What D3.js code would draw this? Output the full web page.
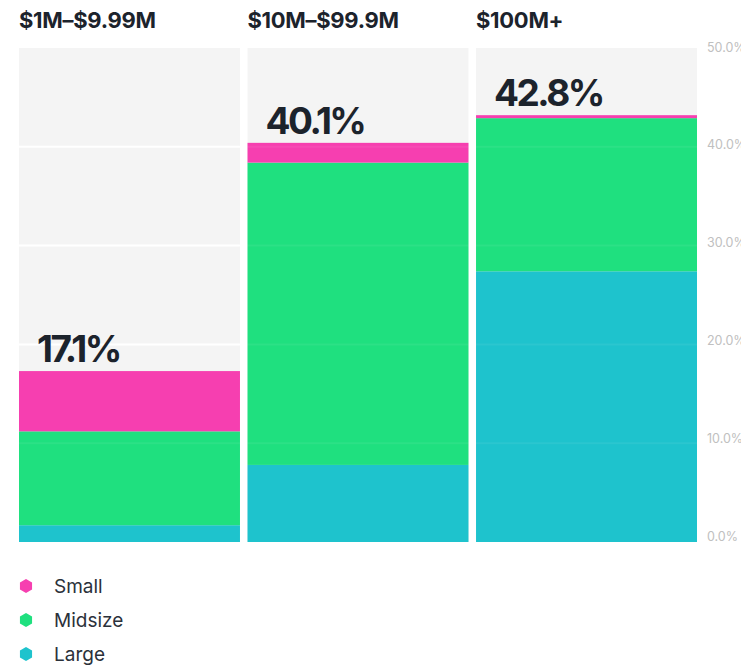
<!DOCTYPE html>
<html><head><meta charset="utf-8">
<script src="https://cdn.jsdelivr.net/npm/d3@7"></script>
<style>body{margin:0;background:#fff;}svg{display:block;font-family:Inter,"Liberation Sans",sans-serif;}</style>
</head><body><svg id="c" width="741" height="665"></svg>
<script>
const categories = ["$1M–$9.99M", "$10M–$99.9M", "$100M+"];
const seriesNames = ["Large", "Midsize", "Small"];
const large = [1.7, 7.8, 27.4];
const midsize = [9.5, 30.6, 15.5];
const small = [6.1, 2.0, 0.3];
const totals = ["17.1%", "40.1%", "42.8%"];
const ticks = [0, 10, 20, 30, 40, 50];
const colors = {Small: "#f63fb0", Midsize: "#1fe07f", Large: "#1ec3cd"};
const legendOrder = ["Small", "Midsize", "Large"];

const svg = d3.select("#c");
const x = d3.scaleBand().domain(categories).range([19, 697]).paddingInner(0.033).paddingOuter(0);
const y = d3.scaleLinear().domain([0, 50]).range([542, 48]);
const yLab = d3.scaleLinear().domain([0, 50]).range([536, 47]);

const rows = categories.map((c, i) => ({cat: c, Large: large[i], Midsize: midsize[i], Small: small[i]}));
const stack = d3.stack().keys(seriesNames)(rows);

svg.selectAll("rect.bg").data(categories).join("rect")
  .attr("x", d => x(d)).attr("y", y(50)).attr("width", x.bandwidth()).attr("height", y(0) - y(50))
  .attr("fill", "#f4f4f4");
categories.forEach(c => {
  svg.selectAll(null).data(ticks.slice(1, -1)).join("line")
    .attr("x1", x(c)).attr("x2", x(c) + x.bandwidth())
    .attr("y1", d => y(d)).attr("y2", d => y(d))
    .attr("stroke", "#fff").attr("stroke-width", 2);
});
svg.selectAll("g.s").data(stack).join("g").attr("fill", d => colors[d.key])
  .selectAll("rect").data(d => d).join("rect")
  .attr("x", d => x(d.data.cat)).attr("width", x.bandwidth())
  .attr("y", d => y(d[1])).attr("height", d => y(d[0]) - y(d[1]));
categories.forEach(c => {
  svg.selectAll(null).data(ticks.slice(1, -1)).join("line")
    .attr("x1", x(c)).attr("x2", x(c) + x.bandwidth())
    .attr("y1", d => y(d)).attr("y2", d => y(d))
    .attr("stroke", "#fff").attr("stroke-opacity", 0.06).attr("stroke-width", 2);
});
svg.selectAll("text.h").data(categories).join("text")
  .attr("x", d => x(d)).attr("y", 28).text(d => d)
  .attr("font-size", 22).attr("font-weight", 700).attr("fill", "#1c232c").attr("letter-spacing", -0.3);
svg.selectAll("text.t").data(rows).join("text")
  .attr("x", d => x(d.cat) + 18)
  .attr("y", (d, i) => y(large[i] + midsize[i] + small[i]) - 9)
  .text((d, i) => totals[i])
  .attr("font-size", 37).attr("font-weight", 700).attr("fill", "#1c232c").attr("letter-spacing", -2.5);
const ax = svg.append("g").attr("transform", "translate(707,0)")
  .call(d3.axisRight(yLab).tickValues(ticks).tickFormat(d => d3.format(".1f")(d) + "%").tickSize(0).tickPadding(0));
ax.select(".domain").remove();
ax.selectAll("text").attr("font-size", 12.5).attr("fill", "#c0c0c0").attr("font-family", "Inter,'Liberation Sans',sans-serif");
const hex = d3.range(6).map(k => { const a = Math.PI / 3 * k + Math.PI / 6; return [7 * Math.cos(a), 7 * Math.sin(a)]; });
const lg = svg.selectAll("g.lg").data(legendOrder).join("g")
  .attr("transform", (d, i) => `translate(26,${586 + i * 34})`);
lg.append("path").attr("d", "M" + hex.map(p => p.join(",")).join("L") + "Z").attr("fill", d => colors[d]);
lg.append("text").attr("x", 28).attr("y", 7).text(d => d).attr("font-size", 19).attr("fill", "#2b313a");
</script></body></html>
